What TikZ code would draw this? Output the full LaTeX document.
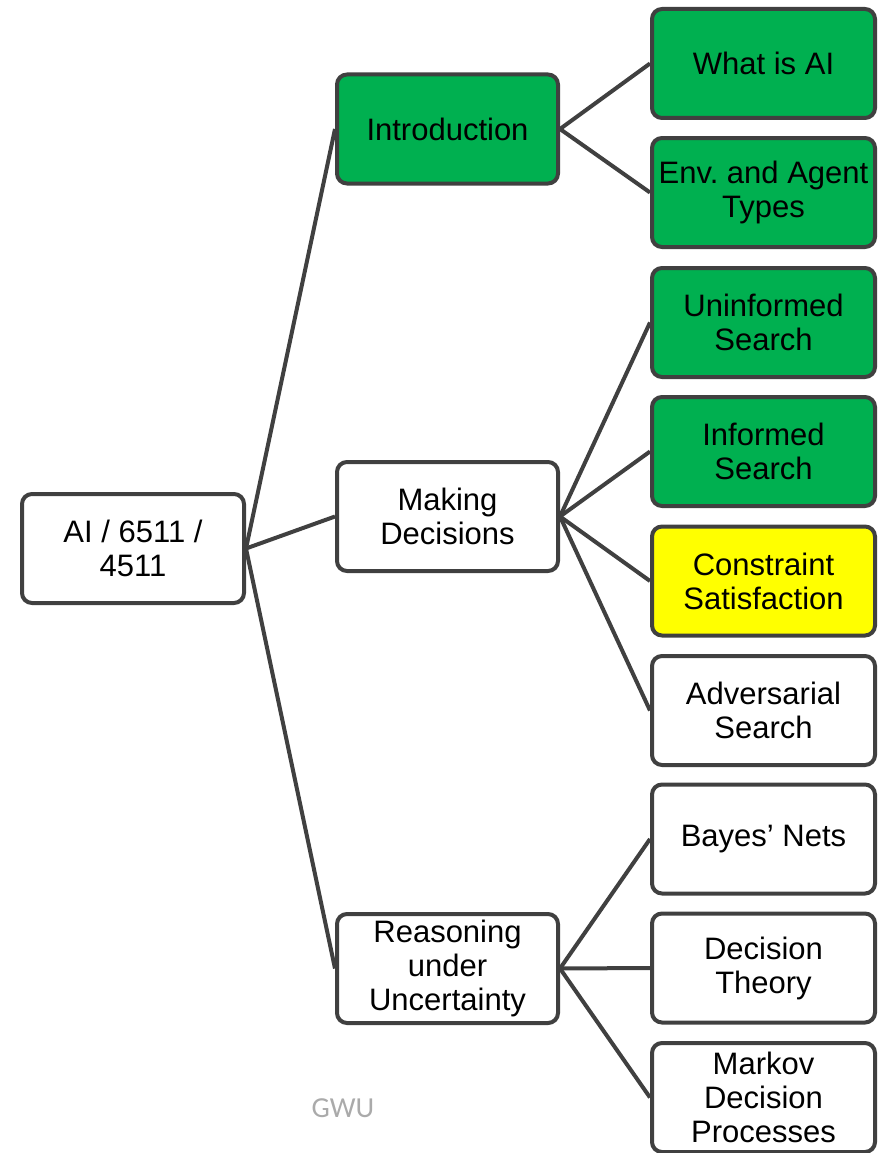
\documentclass[tikz,border=0pt]{standalone}
\usepackage{fontspec}
\setmainfont{Liberation Sans}
\newfontfamily\gwufont{Carlito}
\frenchspacing
\definecolor{bord}{HTML}{404040}
\definecolor{grn}{HTML}{00B050}
\definecolor{yel}{HTML}{FFFF00}
\definecolor{gwugray}{HTML}{AAAAAA}
\tikzset{
  box/.style={draw=bord, line width=4pt, rounded corners=10pt, fill=white,
    minimum height=109pt, inner sep=0pt, align=center,
    font=\fontsize{31}{34}\selectfont},
  midbox/.style={box, minimum width=221pt},
  rightbox/.style={box, minimum width=223pt},
  rootbox/.style={box, minimum width=222pt},
  conn/.style={draw=bord, line width=4pt},
}
\begin{document}
\begin{tikzpicture}[x=1pt,y=-1pt]
\useasboundingbox (0,0) rectangle (879,1153);
\node[rootbox] (root) at (133,548.5) {AI / 6511 /\\4511};
\node[midbox, fill=grn] (intro) at (447.5,129) {Introduction};
\node[midbox] (dec) at (447.5,516.5) {Making\\Decisions};
\node[midbox] (unc) at (447.5,968.5) {Reasoning\\under\\Uncertainty};
\node[rightbox, fill=grn] (what) at (763.5,63.5) {What is AI};
\node[rightbox, fill=grn] (env) at (763.5,192.5) {Env. and Agent\\Types};
\node[rightbox, fill=grn] (unin) at (763.5,322.5) {Uninformed\\Search};
\node[rightbox, fill=grn] (inf) at (763.5,451.5) {Informed\\Search};
\node[rightbox, fill=yel] (csp) at (763.5,581) {Constraint\\Satisfaction};
\node[rightbox] (adv) at (763.5,710.5) {Adversarial\\Search};
\node[rightbox] (bayes) at (763.5,839) {Bayes’ Nets};
\node[rightbox] (dt) at (763.5,968) {Decision\\Theory};
\node[rightbox] (mdp) at (763.5,1097.5) {Markov\\Decision\\Processes};
\node[text=gwugray, font=\gwufont\fontsize{29}{31}\selectfont] (gwu) at (343,1108) {GWU};
\draw[conn] (root.east) -- (intro.west);
\draw[conn] (root.east) -- (dec.west);
\draw[conn] (root.east) -- (unc.west);
\draw[conn] (intro.east) -- (what.west);
\draw[conn] (intro.east) -- (env.west);
\draw[conn] (dec.east) -- (unin.west);
\draw[conn] (dec.east) -- (inf.west);
\draw[conn] (dec.east) -- (csp.west);
\draw[conn] (dec.east) -- (adv.west);
\draw[conn] (unc.east) -- (bayes.west);
\draw[conn] (unc.east) -- (dt.west);
\draw[conn] (unc.east) -- (mdp.west);
\end{tikzpicture}
\end{document}
